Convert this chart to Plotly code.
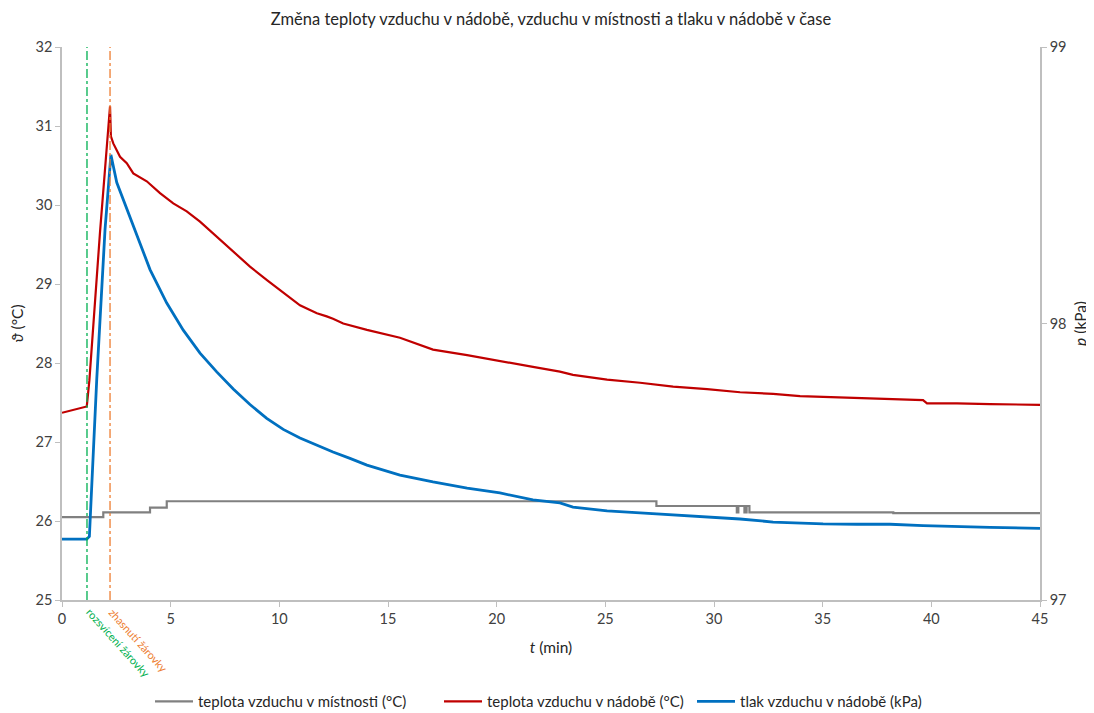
import plotly.graph_objects as go

# --- data ---
# room air temperature (°C), step changes
t_room = [0, 1.90, 4.05, 4.82, 27.35, 31.05, 31.12, 31.40, 31.50, 31.63, 38.25, 45.0]
T_room = [26.05, 26.11, 26.17, 26.25, 26.19, 26.11, 26.19, 26.11, 26.19, 26.11, 26.10, 26.10]

# air temperature inside the vessel (°C)
t_vessel = [0, 1.14, 1.26, 1.75, 2.21, 2.25, 2.36, 2.67, 2.98, 3.28, 3.90, 4.51, 5.12, 5.74,
            6.35, 7.12, 7.87, 8.65, 9.43, 10.17, 10.64, 10.95, 11.41, 11.73, 12.18, 12.47,
            12.94, 13.71, 14.03, 15.55, 17.07, 18.64, 20.15, 21.67, 22.91, 23.51, 25.08, 26.60,
            28.12, 29.68, 31.20, 32.72, 33.96, 35.02, 36.58, 38.10, 39.62, 39.80, 41.18, 42.70,
            45.0]
T_vessel = [27.37, 27.45, 27.78, 29.66, 31.25, 30.87, 30.78, 30.61, 30.53, 30.40, 30.30, 30.15,
            30.02, 29.92, 29.79, 29.60, 29.41, 29.22, 29.05, 28.89, 28.80, 28.73, 28.67, 28.63,
            28.59, 28.56, 28.50, 28.45, 28.42, 28.32, 28.17, 28.10, 28.03, 27.95, 27.89, 27.85,
            27.79, 27.75, 27.70, 27.67, 27.63, 27.61, 27.58, 27.57, 27.56, 27.54, 27.53, 27.49,
            27.49, 27.48, 27.47]

# air pressure inside the vessel (kPa)
t_press = [0, 1.14, 1.26, 1.60, 1.98, 2.25, 2.52, 3.28, 4.05, 4.82, 5.58, 6.35, 7.12, 7.88,
           8.65, 9.42, 10.18, 10.95, 11.72, 12.47, 13.25, 14.03, 15.55, 17.07, 18.64,
           20.15, 21.67, 22.91, 23.51, 25.08, 26.60, 28.12, 29.68, 31.20, 32.72, 33.96, 35.02,
           36.58, 38.10, 39.62, 41.18, 42.70, 45.0]
p_press = [97.22, 97.22, 97.23, 97.80, 98.34, 98.61, 98.51, 98.35, 98.195, 98.074, 97.976,
           97.893, 97.825, 97.763, 97.707, 97.657, 97.617, 97.586, 97.560, 97.535, 97.512,
           97.488, 97.452, 97.427, 97.405, 97.387, 97.362, 97.351, 97.336, 97.322, 97.315,
           97.307, 97.300, 97.293, 97.282, 97.278, 97.275, 97.274, 97.274, 97.269, 97.265,
           97.263, 97.259]

t_light_on = 1.15
t_light_off = 2.21

x_ticks = [0, 5, 10, 15, 20, 25, 30, 35, 40, 45]

FONT = "Lato"
TXT = "#404040"
DARK = "#262626"
AX = "#BFBFBF"

fig = go.Figure()
fig.add_trace(go.Scatter(x=t_room, y=T_room, mode="lines", line_shape="hv",
                         line=dict(color="#808080", width=2.2), legendwidth=236,
                         name="teplota vzduchu v místnosti (°C)"))
fig.add_trace(go.Scatter(x=t_vessel, y=T_vessel, mode="lines",
                         line=dict(color="#C00000", width=2.2), legendwidth=200,
                         name="teplota vzduchu v nádobě (°C)"))
fig.add_trace(go.Scatter(x=t_press, y=p_press, mode="lines", yaxis="y2",
                         line=dict(color="#0070C0", width=2.8), legendwidth=215,
                         name="tlak vzduchu v nádobě (kPa)"))

for tx, col, label in [(t_light_on, "#00B050", "rozsvícení žárovky"),
                       (t_light_off, "#ED7D31", "zhasnutí žárovky")]:
    fig.add_shape(type="line", x0=tx, x1=tx, y0=0, y1=1, xref="x", yref="paper",
                  line=dict(color=col, width=1.3, dash="dashdot"))
    fig.add_annotation(x=tx, y=0, xref="x", yref="paper", text=label, showarrow=False,
                       textangle=48, xanchor="left", yanchor="top", xshift=-6, yshift=-3,
                       font=dict(family=FONT, size=11, color=col))

fig.update_layout(
    width=1086, height=705,
    margin=dict(l=54, r=54, t=39, b=113, autoexpand=False),
    paper_bgcolor="white", plot_bgcolor="white",
    font=dict(family=FONT, size=14, color=TXT),
    title=dict(text="Změna teploty vzduchu v nádobě, vzduchu v místnosti a tlaku v nádobě v čase",
               x=0.5, xanchor="center", yref="container", y=1 - 11 / 705, yanchor="middle",
               font=dict(family=FONT, size=16.5, color=DARK)),
    showlegend=True,
    legend=dict(orientation="h", x=(150 - 62) / 978, xanchor="left", yref="container",
                y=0.016, yanchor="middle", font=dict(family=FONT, size=15, color=DARK),
                itemwidth=38),
    xaxis=dict(range=[0, 45], tickvals=x_ticks, ticks="outside", ticklen=5, tickcolor=AX,
               showline=True, linecolor=AX, linewidth=1.5, showgrid=False, zeroline=False,
               automargin=False,
               title=dict(text="<i>t</i> (min)", standoff=16, font=dict(size=15.5, color=DARK)),
               tickfont=dict(size=14.5, color=TXT)),
    yaxis=dict(range=[25, 32], dtick=1, ticks="outside", ticklen=5, tickcolor=AX,
               showline=True, linecolor=AX, linewidth=1.5, showgrid=False, zeroline=False,
               automargin=False,
               title=dict(text="<i>ϑ</i> (°C)", standoff=10, font=dict(size=15.5, color=DARK)),
               tickfont=dict(size=14.5, color=TXT)),
    yaxis2=dict(range=[97, 99], dtick=1, overlaying="y", side="right", ticks="outside",
                ticklen=5, tickcolor=AX, showline=True, linecolor=AX, linewidth=1.5,
                showgrid=False, zeroline=False, automargin=False,
                title=dict(text="<i>p</i> (kPa)", standoff=10, font=dict(size=15.5, color=DARK)),
                tickfont=dict(size=14.5, color=TXT)),
)

fig.write_html("out.html")
